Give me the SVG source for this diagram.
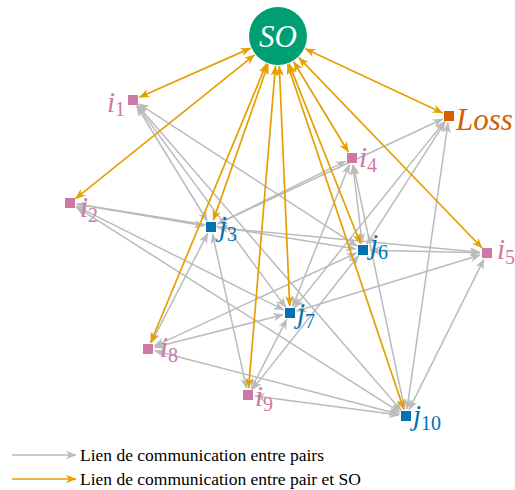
<svg xmlns="http://www.w3.org/2000/svg" width="515" height="490" viewBox="0 0 515 490">
<style>
.g{stroke:#bbbbbb;stroke-width:1.5;fill:none;marker-start:url(#ag);marker-end:url(#ag)}
.o{stroke:#e69f00;stroke-width:1.7;fill:none;marker-start:url(#ao);marker-end:url(#ao)}
.lab{font-style:italic;font-size:29px}
.big{font-size:31px}
.sub{font-style:normal;font-size:20px}
.pink{fill:#cc79a7}.blue{fill:#0072b2}
.leg{font-size:17.5px;fill:#000}
</style>
<defs>
<marker id="ag" viewBox="-11 -5 12 10" refX="0" refY="0" markerWidth="12" markerHeight="10" markerUnits="userSpaceOnUse" orient="auto-start-reverse"><path d="M0.5,0 L-10,-4.2 L-7,0 L-10,4.2 Z" fill="#bbbbbb"/></marker>
<marker id="ao" viewBox="-11 -5 12 10" refX="0" refY="0" markerWidth="12" markerHeight="10" markerUnits="userSpaceOnUse" orient="auto-start-reverse"><path d="M0.5,0 L-10,-4.2 L-7,0 L-10,4.2 Z" fill="#e69f00"/></marker>
<marker id="eg" viewBox="-11 -5 12 10" refX="0" refY="0" markerWidth="12" markerHeight="10" markerUnits="userSpaceOnUse" orient="auto"><path d="M0.5,0 L-10,-4.2 L-7,0 L-10,4.2 Z" fill="#bbbbbb"/></marker>
<marker id="eo" viewBox="-11 -5 12 10" refX="0" refY="0" markerWidth="12" markerHeight="10" markerUnits="userSpaceOnUse" orient="auto"><path d="M0.5,0 L-10,-4.2 L-7,0 L-10,4.2 Z" fill="#e69f00"/></marker>
</defs>
<g id="connectors">
<g id="peer-links">
<line class="g" x1="136.7" y1="106" x2="207.3" y2="221"/>
<line class="g" x1="138.9" y1="103.8" x2="357.1" y2="246.2"/>
<line class="g" x1="137.2" y1="105.6" x2="285.8" y2="307.4"/>
<line class="g" x1="137.6" y1="105.3" x2="401.4" y2="410.7"/>
<line class="g" x1="76.9" y1="204.2" x2="204.1" y2="225.8"/>
<line class="g" x1="76.9" y1="204.1" x2="356.1" y2="248.9"/>
<line class="g" x1="76.3" y1="206.1" x2="283.7" y2="309.9"/>
<line class="g" x1="75.9" y1="206.7" x2="400.1" y2="412.3"/>
<line class="g" x1="345.7" y1="161.1" x2="217.3" y2="223.9"/>
<line class="g" x1="352.8" y1="165" x2="362.2" y2="243"/>
<line class="g" x1="349.4" y1="164.5" x2="292.6" y2="306.5"/>
<line class="g" x1="353.4" y1="164.9" x2="404.6" y2="409.2"/>
<line class="g" x1="480" y1="252.3" x2="218" y2="227.7"/>
<line class="g" x1="480" y1="252.8" x2="370" y2="250.2"/>
<line class="g" x1="480.3" y1="255" x2="296.7" y2="311"/>
<line class="g" x1="483.9" y1="259.3" x2="409.1" y2="409.7"/>
<line class="g" x1="151.2" y1="342.8" x2="207.8" y2="233.2"/>
<line class="g" x1="154.4" y1="346.1" x2="356.6" y2="252.9"/>
<line class="g" x1="154.8" y1="347.3" x2="283.2" y2="314.7"/>
<line class="g" x1="154.8" y1="350.8" x2="399.2" y2="414.2"/>
<line class="g" x1="246.5" y1="388.2" x2="212.5" y2="233.8"/>
<line class="g" x1="252.3" y1="389.5" x2="358.6" y2="255.5"/>
<line class="g" x1="251.2" y1="388.8" x2="286.8" y2="319.2"/>
<line class="g" x1="254.9" y1="395.9" x2="399.1" y2="415.1"/>
<line class="g" x1="217.3" y1="224" x2="442.7" y2="119"/>
<line class="g" x1="366.8" y1="244.1" x2="445.2" y2="121.9"/>
<line class="g" x1="294.4" y1="307.6" x2="444.6" y2="121.4"/>
<line class="g" x1="407" y1="409.1" x2="448" y2="122.9"/>
</g>
<g id="so-links">
<line class="o" x1="250.6" y1="48.1" x2="139.4" y2="97.2"/>
<line class="o" x1="254.6" y1="54.8" x2="75.5" y2="198.6"/>
<line class="o" x1="268.1" y1="64.3" x2="213.3" y2="220.4"/>
<line class="o" x1="266.5" y1="63.7" x2="150.7" y2="342.5"/>
<line class="o" x1="275.5" y1="65.9" x2="248.6" y2="388"/>
<line class="o" x1="279.3" y1="66" x2="289.7" y2="306"/>
<line class="o" x1="289.1" y1="63.9" x2="360.4" y2="243.5"/>
<line class="o" x1="287.6" y1="64.4" x2="403.8" y2="409.4"/>
<line class="o" x1="293.6" y1="61.7" x2="348.4" y2="152"/>
<line class="o" x1="298.8" y1="57.6" x2="482.1" y2="248"/>
<line class="o" x1="305.2" y1="48.7" x2="442.7" y2="113"/>
</g>
</g>
<g font-family="'Liberation Serif', 'Times New Roman', Times, serif">
<g id="SO"><circle cx="278" cy="36" r="29" fill="#009e73"/><text class="lab big" x="278" y="47" text-anchor="middle" fill="#ffffff">SO</text></g>
<g id="i1"><rect x="128" y="95" width="10" height="10" class="pink"/><text class="lab pink" x="107" y="112">i<tspan class="sub" dy="4">1</tspan></text></g>
<g id="Loss"><rect x="444" y="111" width="10" height="10" fill="#d55e00"/><text class="lab big" x="456" y="130" fill="#d55e00">Loss</text></g>
<g id="i4"><rect x="347" y="153" width="10" height="10" class="pink"/><text class="lab pink" x="359" y="167">i<tspan class="sub" dy="5">4</tspan></text></g>
<g id="i2"><rect x="65" y="198" width="10" height="10" class="pink"/><text class="lab pink" x="80" y="217">i<tspan class="sub" dy="5">2</tspan></text></g>
<g id="j3"><rect x="206" y="222" width="10" height="10" class="blue"/><text class="lab blue" x="219" y="236">j<tspan class="sub" dy="5">3</tspan></text></g>
<g id="j6"><rect x="358" y="245" width="10" height="10" class="blue"/><text class="lab blue" x="370" y="254">j<tspan class="sub" dy="5">6</tspan></text></g>
<g id="i5"><rect x="482" y="248" width="10" height="10" class="pink"/><text class="lab pink" x="497" y="259">i<tspan class="sub" dy="5">5</tspan></text></g>
<g id="j7"><rect x="285" y="308" width="10" height="10" class="blue"/><text class="lab blue" x="297" y="323">j<tspan class="sub" dy="5">7</tspan></text></g>
<g id="i8"><rect x="143" y="344" width="10" height="10" class="pink"/><text class="lab pink" x="160" y="357">i<tspan class="sub" dy="5">8</tspan></text></g>
<g id="i9"><rect x="243" y="390" width="10" height="10" class="pink"/><text class="lab pink" x="255" y="406">i<tspan class="sub" dy="5">9</tspan></text></g>
<g id="j10"><rect x="401" y="411" width="10" height="10" class="blue"/><text class="lab blue" x="413" y="425">j<tspan class="sub" dy="5">10</tspan></text></g>
<g id="legend">
<line x1="12" y1="455" x2="76" y2="455" stroke="#bbbbbb" stroke-width="1.5" marker-end="url(#eg)"/>
<text class="leg" x="80" y="461">Lien de communication entre pairs</text>
<line x1="12" y1="479" x2="76" y2="479" stroke="#e69f00" stroke-width="1.7" marker-end="url(#eo)"/>
<text class="leg" x="80" y="485">Lien de communication entre pair et SO</text>
</g>
</g>
</svg>
